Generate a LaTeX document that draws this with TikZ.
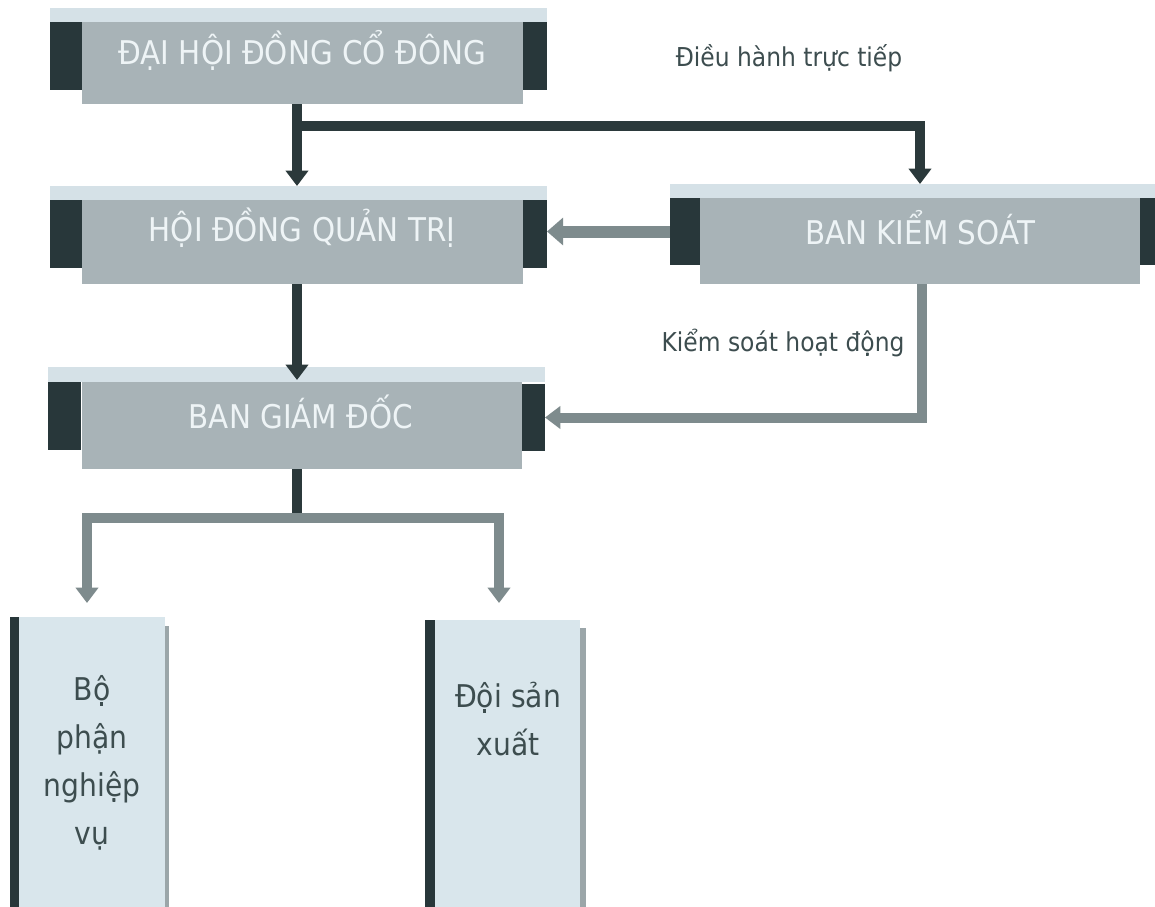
\documentclass[tikz,border=0pt]{standalone}
\usepackage{fontspec}
\setmainfont{DejaVu Sans}[FakeStretch=0.9]
\usetikzlibrary{arrows.meta,calc}
\definecolor{stripc}{HTML}{D5E1E7}
\definecolor{bodyc}{HTML}{A8B3B7}
\definecolor{tabc}{HTML}{28373A}
\definecolor{darkarr}{HTML}{2B393B}
\definecolor{grayarr}{HTML}{7E8B8D}
\definecolor{lightbox}{HTML}{D9E6EC}
\definecolor{shadowc}{HTML}{9BA6A9}
\definecolor{labelc}{HTML}{3D4D4F}
\definecolor{titlec}{HTML}{EEF4F6}
\begin{document}
\begin{tikzpicture}[x=0.75pt,y=-0.75pt,
  bodybox/.style={fill=bodyc,inner sep=0pt,outer sep=0pt},
  tabbox/.style={fill=tabc,inner sep=0pt,outer sep=0pt},
  lbox/.style={fill=lightbox,inner sep=0pt,outer sep=0pt},
  titletext/.style={text=titlec,font=\fontsize{24.5pt}{28pt}\selectfont,inner sep=0pt},
  labeltext/.style={text=labelc,font=\fontsize{19.5pt}{23pt}\selectfont,inner sep=0pt},
  bottext/.style={text=labelc,font=\fontsize{23.5pt}{36pt}\selectfont,align=center,inner sep=0pt},
  darkarrow/.style={draw=darkarr,line width=7.5pt,-{Triangle[width=16.5pt,length=11.5pt]}},
  darkline/.style={draw=darkarr,line width=7.5pt},
  grayarrow/.style={draw=grayarr,line width=7.5pt,-{Triangle[width=16.5pt,length=11.5pt]}},
  grayarrowthick/.style={draw=grayarr,line width=9pt,-{Triangle[width=20pt,length=12pt]}}
]
\useasboundingbox (0,0) rectangle (1155,906);
\fill[white] (0,0) rectangle (1155,906);

% ---- box 1
\node[bodybox,minimum width=330.75pt,minimum height=72pt] (b1) at (302.5,56) {};
\fill[stripc] (50,8) rectangle (547,22);
\node[tabbox,minimum width=24pt,minimum height=51pt] (b1L) at (66,56) {};
\node[tabbox,minimum width=18pt,minimum height=51pt] (b1R) at (535,56) {};
\node[titletext] (t1) at (302,50) {ĐẠI HỘI ĐỒNG CỔ ĐÔNG};

% ---- box 2
\node[bodybox,minimum width=330.75pt,minimum height=73.5pt] (b2) at (302.5,235) {};
\fill[stripc] (50,186) rectangle (547,200);
\node[tabbox,minimum width=24pt,minimum height=51pt] (b2L) at (66,234) {};
\node[tabbox,minimum width=18pt,minimum height=51pt] (b2R) at (535,234) {};
\node[titletext] (t2) at (302,228) {HỘI ĐỒNG QUẢN TRỊ};

% ---- box BKS
\node[bodybox,minimum width=330pt,minimum height=75pt] (bks) at (920,234) {};
\fill[stripc] (670,184) rectangle (1160,198);
\node[tabbox,minimum width=22.5pt,minimum height=50.25pt] (bksL) at (685,231.5) {};
\node[tabbox,minimum width=15pt,minimum height=50.25pt] (bksR) at (1150,231.5) {};
\node[titletext] (t3) at (920,228) {BAN KIỂM SOÁT};

% ---- box 3
\node[bodybox,minimum width=330pt,minimum height=76.5pt] (b3) at (302,418) {};
\fill[stripc] (48,367) rectangle (545,382);
\node[tabbox,minimum width=24.75pt,minimum height=51pt] (b3L) at (64.5,416) {};
\node[tabbox,minimum width=17.25pt,minimum height=50.25pt] (b3R) at (533.5,417.5) {};
\node[titletext] (t4) at (301,412) {BAN GIÁM ĐỐC};

% ---- bottom boxes
\fill[shadowc] (165,626) rectangle (169,920);
\node[lbox,minimum width=109.5pt,minimum height=227.25pt] (lb) at (92,768.5) {};
\fill[tabc] (10,617) rectangle (19,920);
\node[bottext] (lbt) at (92,763) {Bộ\\phận\\nghiệp\\vụ};

\fill[shadowc] (580,628) rectangle (586,920);
\node[lbox,minimum width=108.75pt,minimum height=225pt] (rb) at (507.5,770) {};
\fill[tabc] (425,620) rectangle (435,920);
\node[bottext] (rbt) at (508,719) {Đội sản\\xuất};

% ---- labels
\node[labeltext] (l1) at (789,58) {Điều hành trực tiếp};
\node[labeltext] (l2) at (783,343) {Kiểm soát hoạt động};

% ---- connectors
\coordinate (j1) at (297,126);
\coordinate (j2) at (297,518);
\coordinate (k1) at (922,300);
\coordinate (lt) at (87,603);
\coordinate (rt) at (499,603);

\draw[darkarrow] (b1.south -| j1) -- (b2.north -| j1);
\draw[darkarrow] (j1) -| (bks.north);
\draw[darkarrow,shorten >=-9.75pt] (b2.south -| j1) -- (b3.north -| j1);
\draw[darkline] (b3.south -| j1) -- ([yshift=3pt]j2);
\draw[grayarrow] (j2) -| (lt);
\draw[grayarrow] (j2) -| (rt);
\draw[grayarrowthick] (bksL.west) -- (bksL.west -| b2R.east);
\draw[grayarrow] (bks.south -| k1) |- (b3R.east);
\end{tikzpicture}
\end{document}
